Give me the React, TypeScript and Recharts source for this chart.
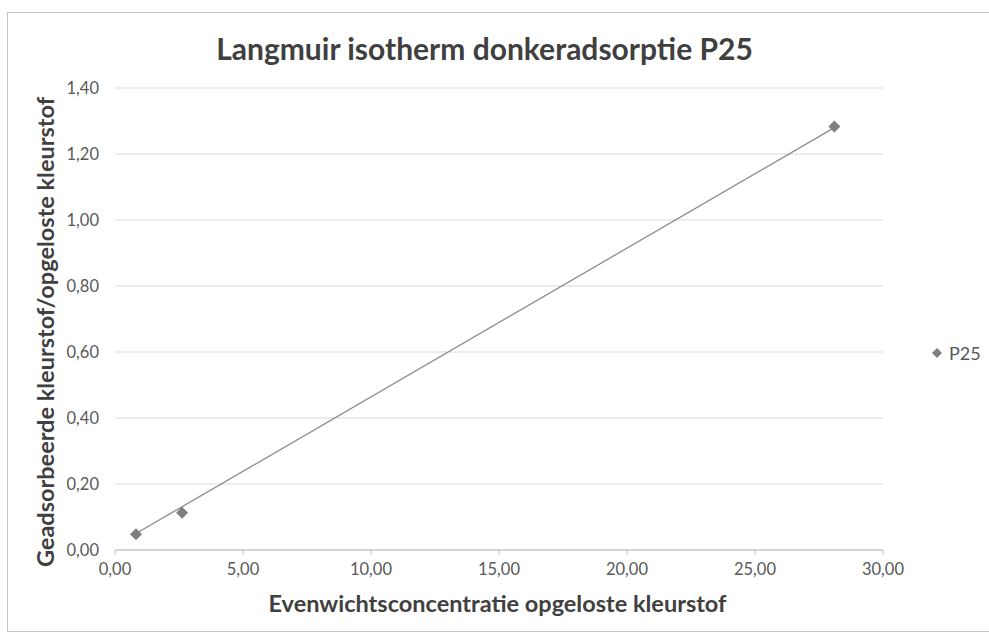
import React from "react";
import { ScatterChart, Scatter, XAxis, YAxis, CartesianGrid } from "recharts";

const xValues = [0.82, 2.62, 28.1];
const yValues = [0.048, 0.113, 1.283];
const trendX = [0.82, 28.1];
const trendY = [0.05, 1.28];
const xTicks = [0, 5, 10, 15, 20, 25, 30];
const yTicks = [0, 0.2, 0.4, 0.6, 0.8, 1.0, 1.2, 1.4];
const seriesName = "P25";
const title = "Langmuir isotherm donkeradsorptie P25";
const xTitle = "Evenwichtsconcentratie opgeloste kleurstof";
const yTitle = "Geadsorbeerde kleurstof/opgeloste kleurstof";

const points = xValues.map((x, i) => ({ x, y: yValues[i] }));
const trend = trendX.map((x, i) => ({ x, y: trendY[i] }));

const fmt = (v: number) => v.toFixed(2).replace(".", ",");
const FONT = "Lato, 'Open Sans', sans-serif";

const Diamond = (props: any) => {
  const { cx, cy } = props;
  const r = 6;
  return <path d={`M${cx} ${cy - r} L${cx + r} ${cy} L${cx} ${cy + r} L${cx - r} ${cy} Z`} fill="#7f7f7f" />;
};

export default function App() {
  return (
    <div style={{ position: "absolute", left: 0, top: 0, width: 989, height: 637, background: "#fff", overflow: "hidden", fontFamily: FONT }}>
      <div style={{ position: "absolute", left: 7, top: 12, width: 1000, height: 620, border: "1px solid #c4c4c4", boxSizing: "border-box" }} />
      <div style={{ position: "absolute", left: 0, top: 30, width: 969, textAlign: "center", fontSize: 30, fontWeight: 700, color: "#404040" }}>{title}</div>
      <div style={{ position: "absolute", left: 0, top: 589, width: 995, textAlign: "center", fontSize: 23.5, fontWeight: 700, color: "#404040" }}>{xTitle}</div>
      <div style={{ position: "absolute", left: 45, top: 332, width: 0, height: 0 }}>
        <div style={{ position: "absolute", transform: "translate(-50%,-50%) rotate(-90deg)", whiteSpace: "nowrap", fontSize: 23.5, fontWeight: 700, color: "#404040" }}>{yTitle}</div>
      </div>
      <div style={{ position: "absolute", left: 931, top: 342, display: "flex", alignItems: "center", fontSize: 18, color: "#595959" }}>
        <svg width={12} height={12} style={{ marginRight: 6 }}><path d="M6 1 L11 6 L6 11 L1 6 Z" fill="#7f7f7f" /></svg>
        {seriesName}
      </div>
      <div style={{ position: "absolute", left: 0, top: 0 }}>
        <ScatterChart width={989} height={637} margin={{ top: 88, right: 106, bottom: 29, left: 55 }}>
          <CartesianGrid horizontal vertical={false} stroke="#d9d9d9" />
          <XAxis type="number" dataKey="x" domain={[0, 30]} ticks={xTicks} tickFormatter={fmt}
            stroke="#bfbfbf" tick={{ fill: "#595959", fontSize: 16.5, fontFamily: FONT }} tickSize={5} tickMargin={8} height={58} />
          <YAxis type="number" dataKey="y" domain={[0, 1.4]} ticks={yTicks} tickFormatter={fmt}
            axisLine={false} tickLine={false} tick={{ fill: "#595959", fontSize: 16.5, fontFamily: FONT }} width={60} tickMargin={10} />
          <Scatter data={trend} line={{ stroke: "#8c8c8c", strokeWidth: 1.3 }} shape={() => <g />} isAnimationActive={false} legendType="none" />
          <Scatter data={points} name={seriesName} fill="#7f7f7f" shape={Diamond} isAnimationActive={false} />
        </ScatterChart>
      </div>
    </div>
  );
}
